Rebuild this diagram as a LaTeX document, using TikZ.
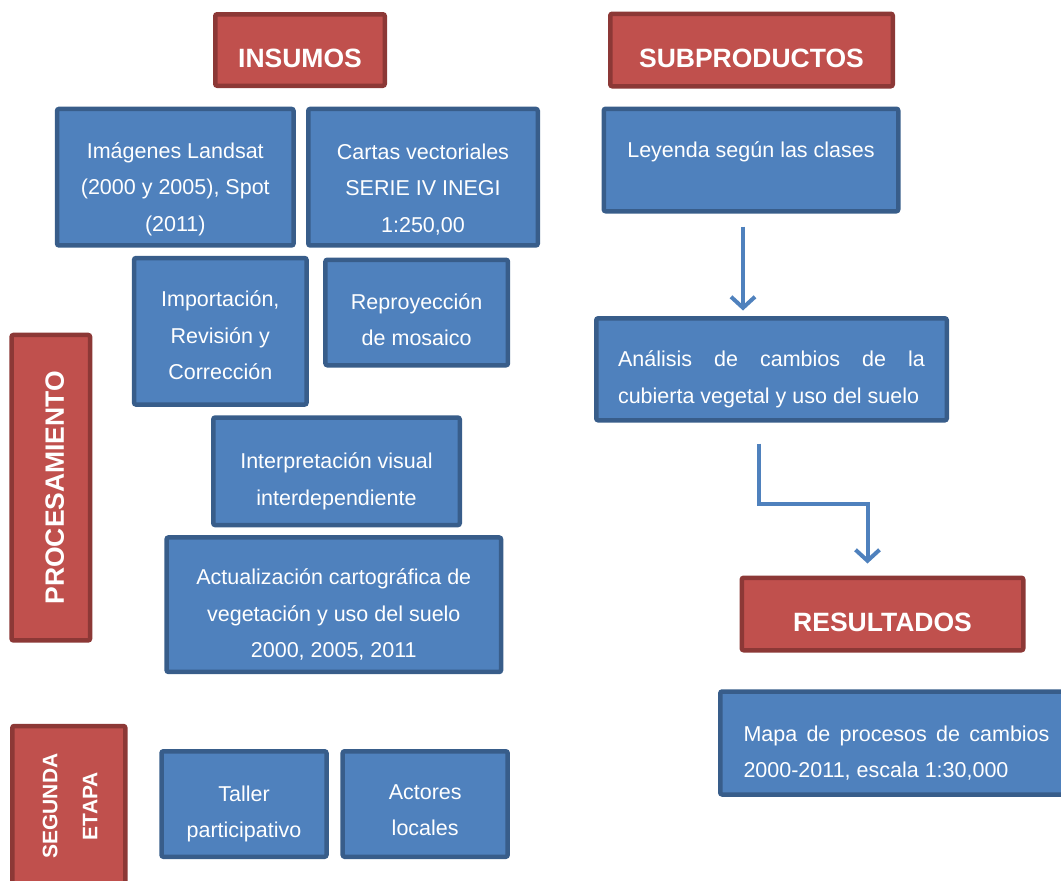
\documentclass[tikz,border=0pt]{standalone}
\usepackage{fontspec}
\setmainfont{Liberation Sans}
\usetikzlibrary{arrows.meta}

\definecolor{azul}{HTML}{4F81BD}
\definecolor{azulborde}{HTML}{385D8A}
\definecolor{rojo}{HTML}{C0504D}
\definecolor{rojoborde}{HTML}{8C3836}

\begin{document}
\begin{tikzpicture}[x=1pt,y=-1pt,
    caja/.style={rectangle,draw=azulborde,fill=azul,line width=4.5pt,rounded corners=2pt},
    titulo/.style={rectangle,draw=rojoborde,fill=rojo,line width=4.5pt,rounded corners=2pt},
    texto/.style={text=white,align=center,yshift=-10pt,font=\fontsize{21.5}{36.5}\selectfont},
    textotit/.style={text=white,align=center,yshift=-8pt,font=\bfseries\fontsize{26.5}{30}\selectfont},
    flecha/.style={draw=azul,line width=4pt,-{Straight Barb[length=11pt,width=24pt]}}]
    \tikzset{every node/.style={inner sep=0pt}}
    \useasboundingbox (0,0) rectangle (1061,881);
    \clip (0,0) rectangle (1061,881);

    % titulos
    \node [titulo,minimum width=169.5,minimum height=71.5] (insumos) at (300,50) {};
    \node [textotit] (insumos-t) at (insumos) {INSUMOS};
    \node [titulo,minimum width=282.5,minimum height=72.5] (subproductos) at (751.5,50) {};
    \node [textotit] (subproductos-t) at (subproductos) {SUBPRODUCTOS};
    \node [titulo,minimum width=281.5,minimum height=72.5] (resultados) at (882.5,614) {};
    \node [textotit] (resultados-t) at (resultados) {RESULTADOS};
    \node [titulo,minimum width=78.5,minimum height=305.5] (procesamiento) at (50.8,487.7) {};
    \node [textotit,yshift=8pt,xshift=4pt,rotate=90] (procesamiento-t) at (procesamiento) {PROCESAMIENTO};
    \node [titulo,minimum width=113,minimum height=200] (segunda) at (68.8,826) {};
    \node [textotit,yshift=8pt,rotate=90,font=\bfseries\fontsize{21}{40}\selectfont] (segunda-t) at (70,806) {SEGUNDA\\ETAPA};

    % insumos y procesamiento
    \node [caja,minimum width=236.5,minimum height=136.5] (imagenes) at (175.3,177.2) {};
    \node [texto,yshift=-2pt] (imagenes-t) at (imagenes) {Imágenes Landsat\\(2000 y 2005), Spot\\(2011)};
    \node [caja,minimum width=229.5,minimum height=136.5] (cartas) at (423,177.2) {};
    \node [texto,yshift=-2pt] (cartas-t) at (cartas) {Cartas vectoriales\\SERIE IV INEGI\\1:250,00};
    \node [caja,minimum width=172.5,minimum height=146.5] (importacion) at (220.3,331.3) {};
    \node [texto,yshift=6pt] (importacion-t) at (importacion) {Importación,\\Revisión y\\Corrección};
    \node [caja,minimum width=182.5,minimum height=105.5] (reproyeccion) at (416.7,312.5) {};
    \node [texto,yshift=3pt] (reproyeccion-t) at (reproyeccion) {Reproyección\\de mosaico};
    \node [caja,minimum width=246.5,minimum height=107.5] (interpretacion) at (336.5,471.3) {};
    \node [texto] (interpretacion-t) at (interpretacion) {Interpretación visual\\interdependiente};
    \node [caja,minimum width=334.5,minimum height=134.5] (actualizacion) at (333.8,604.7) {};
    \node [texto] (actualizacion-t) at (actualizacion) {Actualización cartográfica de\\vegetación y uso del suelo\\2000, 2005, 2011};
    \node [caja,minimum width=165,minimum height=105.5] (taller) at (244,804) {};
    \node [texto] (taller-t) at (taller) {Taller\\participativo};
    \node [caja,minimum width=165,minimum height=105.5] (actores) at (425.2,804) {};
    \node [texto,yshift=4pt] (actores-t) at (actores) {Actores\\locales};

    % subproductos y resultados
    \node [caja,minimum width=294.5,minimum height=102.5] (leyenda) at (751,160) {};
    \node [texto,yshift=18pt] (leyenda-t) at (leyenda) {Leyenda según las clases};
    \node [caja,minimum width=350.5,minimum height=102] (analisis) at (771.5,369.3) {};
    \node [texto,align=left] (analisis-t) at (analisis)
        {\makebox[307pt][s]{Análisis de cambios de la}\\cubierta vegetal y uso del suelo};
    \node [caja,minimum width=352.5,minimum height=103] (mapa) at (896.5,743) {};
    \node [texto,align=left] (mapa-t) at (mapa)
        {\makebox[306pt][s]{Mapa de procesos de cambios}\\2000-2011, escala 1:30,000};

    % flechas
    \draw [flecha] ([xshift=-8pt,yshift=-13pt]leyenda.south) -- ++(0,84);
    \draw [flecha] ([xshift=-13pt,yshift=-21pt]analisis.south) -- ++(0,60)
        -| ([xshift=-15pt,yshift=12pt]resultados.north);

\end{tikzpicture}
\end{document}
